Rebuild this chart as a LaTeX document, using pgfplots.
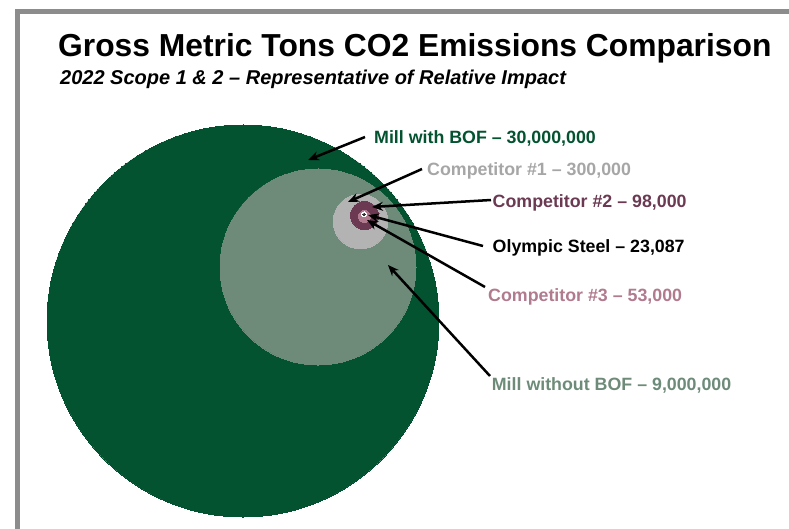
\documentclass[border=0pt]{standalone}
\usepackage{fontspec}
\setmainfont{Liberation Sans}
\usepackage{pgfplots}
\pgfplotsset{compat=1.18}
\usetikzlibrary{arrows.meta}
\definecolor{millgreen}{HTML}{035230}
\definecolor{millwo}{HTML}{6E8B7A}
\definecolor{compone}{HTML}{B3B3B3}
\definecolor{componetext}{HTML}{A6A6A6}
\definecolor{comptwo}{HTML}{6B3A52}
\definecolor{compthree}{HTML}{B07A8F}
\definecolor{framegray}{HTML}{8C8C8C}
\tikzset{lab/.style={anchor=base west, inner sep=0pt, font=\fontsize{17.8}{21}\selectfont\bfseries},
  arr/.style={line width=2.5pt, -{Stealth[length=11pt,width=9pt]}}}
\begin{document}
\begin{tikzpicture}[x=1pt,y=1pt]
\useasboundingbox (0,0) rectangle (789,529);
\begin{axis}[at={(0,0)}, anchor=south west, scale only axis,
  width=789pt, height=529pt, xmin=0, xmax=789, ymin=0, ymax=529,
  y dir=reverse, hide axis, clip=true, clip marker paths=true]
% frame
\draw[framegray, line width=5pt, line join=miter] (axis cs:17,600) -- (axis cs:17,11.7) -- (axis cs:820,11.7);
% bubbles: x, y (pixels from top), radius
\addplot[only marks, mark=*, mark size=196, mark options={draw=millgreen, fill=millgreen, line width=0pt}] coordinates {(243,321)};
\addplot[only marks, mark=*, mark size=98, mark options={draw=millwo, fill=millwo, line width=0pt}] coordinates {(318,267)};
\addplot[only marks, mark=*, mark size=27.3, mark options={draw=compone, fill=compone, line width=0pt}] coordinates {(360.5,221.5)};
\addplot[only marks, mark=*, mark size=14, mark options={draw=comptwo, fill=comptwo, line width=0pt}] coordinates {(364.5,215.5)};
\addplot[only marks, mark=*, mark size=6, mark options={draw=compthree, fill=compthree, line width=0pt}] coordinates {(364.5,216.5)};
\addplot[only marks, mark=*, mark size=2.6, mark options={draw=white, fill=white, line width=0pt}] coordinates {(364,214.3)};
\addplot[only marks, mark=*, mark size=1.1, mark options={draw=black!80, fill=black!80, line width=0pt}] coordinates {(364,214.3)};
% title
\node[anchor=base west, inner sep=0pt, font=\fontsize{31.8}{36}\selectfont\bfseries] at (axis cs:58,57) {Gross Metric Tons CO2 Emissions Comparison};
\node[anchor=base west, inner sep=0pt, font=\fontsize{20}{23}\selectfont\bfseries\itshape] at (axis cs:60,84.5) {2022 Scope 1 \& 2 -- Representative of Relative Impact};
% arrows
\draw[arr] (axis cs:365,137) -- (axis cs:308,160);
\draw[arr] (axis cs:422,169) -- (axis cs:348,202);
\draw[arr] (axis cs:491,200) -- (axis cs:372,207);
\draw[arr] (axis cs:483,246) -- (axis cs:368,215);
\draw[arr] (axis cs:485,287) -- (axis cs:367,220);
\draw[arr] (axis cs:490,376) -- (axis cs:388,265);
% labels
\node[lab, text=millgreen] at (axis cs:374,144) {Mill with BOF -- 30,000,000};
\node[lab, text=componetext] at (axis cs:427,176) {Competitor \#1 -- 300,000};
\node[lab, text=comptwo] at (axis cs:492.5,207.3) {Competitor \#2 -- 98,000};
\node[lab, text=black] at (axis cs:492.5,252.3) {Olympic Steel -- 23,087};
\node[lab, text=compthree] at (axis cs:488,301.7) {Competitor \#3 -- 53,000};
\node[lab, text=millwo] at (axis cs:491.7,390) {Mill without BOF -- 9,000,000};
\end{axis}
\end{tikzpicture}
\end{document}
